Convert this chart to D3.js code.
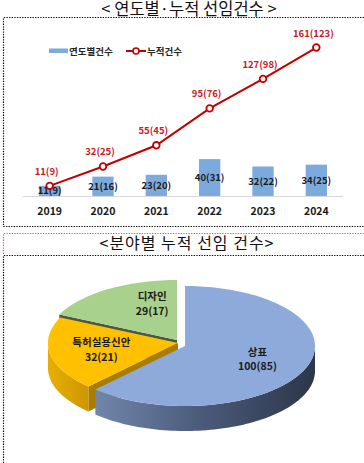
<!DOCTYPE html>
<meta charset="utf-8">
<style>
body { margin: 0; background: #fff; }
text { font-family: "Noto Sans CJK KR", "Noto Sans", sans-serif; }
</style>
<svg width="364" height="463"></svg>
<script src="https://d3js.org/d3.v7.min.js"></script>
<script>

// data
var years = ["2019", "2020", "2021", "2022", "2023", "2024"];
var yearly = [11, 21, 23, 40, 32, 34];
var yearlyNew = [9, 16, 20, 31, 22, 25];
var cumulative = [11, 32, 55, 95, 127, 161];
var cumulativeNew = [9, 25, 45, 76, 98, 123];

var fields = ["상표", "특허실용신안", "디자인"];
var fieldTotal = [100, 32, 29];
var fieldNew = [85, 21, 17];

var svg = d3.select("svg");

// frames
svg.append("path")
    .attr("d", "M364,17.5H3.5V226.5H364")
    .attr("fill", "none").attr("stroke", "#000")
    .attr("stroke-width", 1.2).attr("stroke-dasharray", "1.3,1.3");
svg.append("path")
    .attr("d", "M364,233.5H3.5V255")
    .attr("fill", "none").attr("stroke", "#ff4d4d")
    .attr("stroke-width", 1.2).attr("stroke-dasharray", "1.3,1.3");
svg.append("path")
    .attr("d", "M364,255.5H3.5V463")
    .attr("fill", "none").attr("stroke", "#000")
    .attr("stroke-width", 1.2).attr("stroke-dasharray", "1.3,1.3");

// titles
svg.append("text")
    .attr("x", 189).attr("y", 14.5)
    .attr("text-anchor", "middle")
    .attr("font-size", 16.5).attr("fill", "#111")
    .text("< 연도별·누적 선임건수 >");
svg.append("text")
    .attr("x", 187).attr("y", 249)
    .attr("text-anchor", "middle")
    .attr("font-size", 16).attr("fill", "#111")
    .attr("letter-spacing", 1)
    .text("<분야별 누적 선임 건수>");

// ---- top chart ----
var x = d3.scaleBand().domain(years).range([23, 343])
    .paddingInner(0.6).paddingOuter(0.3);
var y = d3.scaleLinear().domain([0, 180]).range([196, 30]);

var g = svg.append("g");

g.append("g")
    .attr("transform", "translate(0," + y(0) + ")")
    .call(d3.axisBottom(x).tickSize(0).tickPadding(12))
    .call(function(a) {
      a.select(".domain").attr("stroke", "#d9d9d9").attr("d", "M23,0.5H343");
      a.selectAll("text")
          .attr("font-size", 10.5).attr("font-weight", 700)
          .attr("fill", "#1a1a1a")
          .style("font-family", "'Noto Sans CJK KR', sans-serif");
    });

g.selectAll(".bar")
    .data(yearly)
  .enter().append("rect")
    .attr("class", "bar")
    .attr("x", function(d, i) { return x(years[i]); })
    .attr("y", function(d) { return y(d); })
    .attr("width", x.bandwidth())
    .attr("height", function(d) { return y(0) - y(d); })
    .attr("fill", "#7caadd");

g.selectAll(".barlabel")
    .data(yearly)
  .enter().append("text")
    .attr("x", function(d, i) { return x(years[i]) + x.bandwidth() / 2; })
    .attr("y", function(d) { return (y(d) + y(0)) / 2 + 3.5; })
    .attr("text-anchor", "middle")
    .attr("font-size", 9.5).attr("font-weight", 700).attr("fill", "#1a1a1a")
    .text(function(d, i) { return d + "(" + yearlyNew[i] + ")"; });

var cx = function(i) { return x(years[i]) + x.bandwidth() / 2; };

g.append("path")
    .datum(cumulative)
    .attr("fill", "none").attr("stroke", "#c00000").attr("stroke-width", 2)
    .attr("d", d3.line()
        .x(function(d, i) { return cx(i); })
        .y(function(d) { return y(d); }));

g.selectAll(".dot")
    .data(cumulative)
  .enter().append("circle")
    .attr("cx", function(d, i) { return cx(i); })
    .attr("cy", function(d) { return y(d); })
    .attr("r", 3.3)
    .attr("fill", "#fff").attr("stroke", "#c00000").attr("stroke-width", 1.8);

g.selectAll(".linelabel")
    .data(cumulative)
  .enter().append("text")
    .attr("x", function(d, i) { return cx(i) - 3; })
    .attr("y", function(d) { return y(d) - 11; })
    .attr("text-anchor", "middle")
    .attr("font-size", 9.5).attr("font-weight", 700).attr("fill", "#c8202a")
    .text(function(d, i) { return d + "(" + cumulativeNew[i] + ")"; });

// legend
var lg = svg.append("g");
lg.append("rect").attr("x", 49).attr("y", 48.5).attr("width", 19).attr("height", 4.5)
    .attr("fill", "#7caadd");
lg.append("text").attr("x", 69).attr("y", 54.5)
    .attr("font-size", 9.5).attr("font-weight", 700).attr("fill", "#262626")
    .text("연도별건수");
lg.append("line").attr("x1", 126).attr("x2", 146).attr("y1", 51).attr("y2", 51)
    .attr("stroke", "#c00000").attr("stroke-width", 2);
lg.append("circle").attr("cx", 136).attr("cy", 51).attr("r", 3)
    .attr("fill", "#fff").attr("stroke", "#c00000").attr("stroke-width", 1.6);
lg.append("text").attr("x", 147).attr("y", 54.5)
    .attr("font-size", 9.5).attr("font-weight", 700).attr("fill", "#262626")
    .text("누적건수");

// ---- 3D pie ----
var pcx = 185, pcy = 346, rx = 130, ry = 60, depth = 25;
var offsets = [[0, 0], [-7, -3], [-8, -6]];
var topColors = ["#8eaadb", "#ffc000", "#a9d18e"];
var cutColors = ["#3d4a63", "#a87e00", "#4b5944"];
var labelNudge = [[0, 0], [0, 0], [17, -6]];

var defs = svg.append("defs");
var gb = defs.append("linearGradient").attr("id", "wallBlue")
    .attr("gradientUnits", "userSpaceOnUse")
    .attr("x1", 90).attr("x2", 315).attr("y1", 0).attr("y2", 0);
gb.append("stop").attr("offset", 0).attr("stop-color", "#7388ae");
gb.append("stop").attr("offset", 0.5).attr("stop-color", "#4a5a79");
gb.append("stop").attr("offset", 1).attr("stop-color", "#2c364a");
var gy = defs.append("linearGradient").attr("id", "wallYellow")
    .attr("gradientUnits", "userSpaceOnUse")
    .attr("x1", 50).attr("x2", 95).attr("y1", 0).attr("y2", 0);
gy.append("stop").attr("offset", 0).attr("stop-color", "#e8ad00");
gy.append("stop").attr("offset", 1).attr("stop-color", "#c79400");
var wallFills = ["url(#wallBlue)", "url(#wallYellow)", "#6a8a52"];

var pie = d3.pie().sort(null).value(function(d) { return d; });
var arcs = pie(fieldTotal);

function pt(a, r, o, dz) {
  return [pcx + o[0] + rx * r * Math.sin(a), pcy + o[1] - ry * r * Math.cos(a) + dz];
}
function arcPts(a0, a1, o, dz) {
  var n = Math.max(2, Math.ceil(Math.abs(a1 - a0) / 0.03)), p = [];
  for (var k = 0; k <= n; k++) p.push(pt(a0 + (a1 - a0) * k / n, 1, o, dz));
  return p;
}
var lineGen = d3.line();

var pg = svg.append("g");
// draw back slices first
[2, 1, 0].forEach(function(i) {
  var a = arcs[i], o = offsets[i];
  var c0 = pt(0, 0, o, 0), c1 = pt(0, 0, o, depth);
  // radial cut faces that face the viewer
  if (Math.sin(a.startAngle) < -1e-6) {
    var p0 = pt(a.startAngle, 1, o, 0), p1 = pt(a.startAngle, 1, o, depth);
    pg.append("path").attr("d", lineGen([c0, p0, p1, c1]) + "Z").attr("fill", cutColors[i]);
  }
  if (Math.sin(a.endAngle) > 1e-6) {
    var q0 = pt(a.endAngle, 1, o, 0), q1 = pt(a.endAngle, 1, o, depth);
    pg.append("path").attr("d", lineGen([c0, q0, q1, c1]) + "Z").attr("fill", cutColors[i]);
  }
  // front outer wall
  var w0 = Math.max(a.startAngle, Math.PI / 2), w1 = Math.min(a.endAngle, 3 * Math.PI / 2);
  if (w1 > w0) {
    var top = arcPts(w0, w1, o, 0), bot = arcPts(w1, w0, o, depth);
    pg.append("path").attr("d", lineGen(top.concat(bot)) + "Z").attr("fill", wallFills[i]);
  }
  // top face
  var face = [c0].concat(arcPts(a.startAngle, a.endAngle, o, 0));
  pg.append("path").attr("d", lineGen(face) + "Z").attr("fill", topColors[i]);
});

// pie labels: name line and value line
arcs.forEach(function(a, i) {
  var mid = (a.startAngle + a.endAngle) / 2;
  var c = pt(mid, 0.6, offsets[i], 0);
  var lx = c[0] + labelNudge[i][0], ly = c[1] + labelNudge[i][1];
  pg.append("text")
      .attr("x", lx).attr("y", ly - 3.5)
      .attr("text-anchor", "middle")
      .attr("font-size", 10.5).attr("font-weight", 700).attr("fill", "#1a1a1a")
      .text(fields[i]);
  pg.append("text")
      .attr("x", lx).attr("y", ly + 11)
      .attr("text-anchor", "middle")
      .attr("font-size", 10.5).attr("font-weight", 700).attr("fill", "#1a1a1a")
      .text(fieldTotal[i] + "(" + fieldNew[i] + ")");
});

</script>
